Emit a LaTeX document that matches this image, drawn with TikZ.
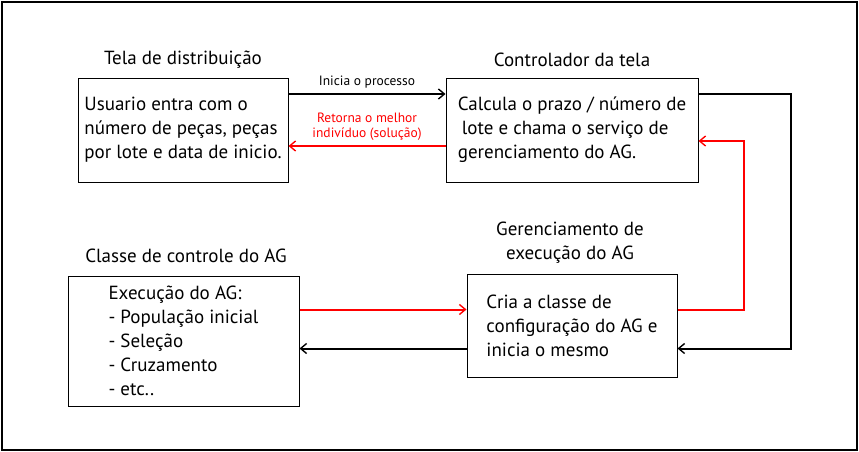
\documentclass[tikz,border=0pt]{standalone}
\usepackage{fontspec}
\setmainfont{PT Sans}
\usetikzlibrary{arrows.meta}

\begin{document}
\begin{tikzpicture}[
  x = 1pt,
  y = -1pt,
  font = \fontsize{19}{24}\selectfont,
  block/.style = {draw, line width = 1pt, align = left, inner sep = 0pt},
  heading/.style = {align = center},
  flow/.style = {line width = 2pt, -{Straight Barb[length = 6pt, width = 10pt, line width = 1.4pt]}},
  note/.style = {font = \fontsize{13.5}{15.5}\selectfont, align = center},
  ]

  \useasboundingbox (0, 0) rectangle (859, 452);

  \draw [line width = 2pt] (2, 2) rectangle (857, 450);

  \node at (183, 130)
  [block, minimum width = 210, minimum height = 104, name = Distribuicao]
  {Usuario entra com o\\número de peças, peças\\por lote e data de inicio.};

  \node at (572, 130)
  [block, minimum width = 252, minimum height = 104, name = Controlador]
  {Calcula o prazo / número de\\\hspace*{4pt}lote e chama o serviço de\\gerenciamento do AG.};

  \node at (183.5, 341)
  [block, minimum width = 231, minimum height = 130, name = Classe]
  {Execução do AG:\\- População inicial\\- Seleção\\- Cruzamento\\- etc..};

  \node at (572, 325.5)
  [block, minimum width = 210, minimum height = 103, name = Gerenciamento]
  {Cria a classe de\\configuração do AG e\\inicia o mesmo};

  \node at (183, 60) [heading, name = DistribuicaoTitle] {Tela de distribuição};

  \node at (572, 60) [heading, name = ControladorTitle] {Controlador da tela};

  \node at (186, 256) [heading, name = ClasseTitle] {Classe de controle do AG};

  \node at (570, 243) [heading, name = GerenciamentoTitle] {Gerenciamento de\\execução do AG};

  \coordinate (RedIn) at ([yshift = 16pt] Gerenciamento.west);

  \coordinate (BlackOut) at ([yshift = -23pt] Gerenciamento.west);

  \draw [flow] ([yshift = 36pt] Distribuicao.east) to node [note, above, yshift = 1pt] {Inicia o processo} ([yshift = 36pt] Controlador.west);

  \draw [flow, red] ([yshift = -16pt] Controlador.west) to node [note, above, red, yshift = 1pt] {Retorna o melhor\\indivíduo (solução)} ([yshift = -16pt] Distribuicao.east);

  \draw [flow] ([yshift = 36pt] Controlador.east) -- ++(92, 0) |- ([yshift = -23pt] Gerenciamento.east);

  \draw [flow, red] ([yshift = 16pt] Gerenciamento.east) -- ++(66, 0) |- ([yshift = -11pt] Controlador.east);

  \draw [flow, red] (RedIn -| Classe.east) to (RedIn);

  \draw [flow] (BlackOut) to (BlackOut -| Classe.east);

\end{tikzpicture}
\end{document}
